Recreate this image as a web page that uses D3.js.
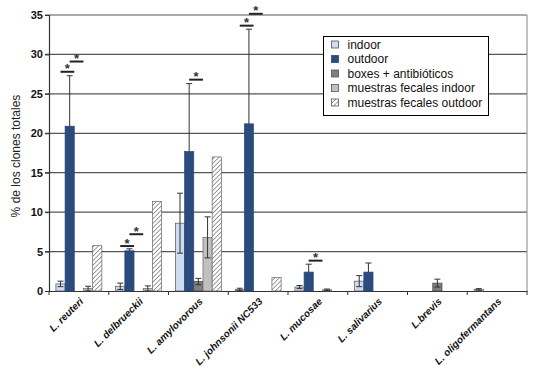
<!DOCTYPE html>
<html>
<head>
<meta charset="utf-8">
<script src="https://cdn.jsdelivr.net/npm/d3@7"></script>
<style>
  body { margin: 0; background: #fff; }
  svg { display: block; font-family: "Liberation Sans", Arial, sans-serif; }
</style>
</head>
<body>
<svg id="chart" width="550" height="373"></svg>
<script>
// ---- data ----
const categories = ["L. reuteri", "L. delbrueckii", "L. amylovorous", "L. johnsonii NC533",
                    "L. mucosae", "L. salivarius", "L.brevis", "L. oligofermantans"];
const seriesNames = ["indoor", "outdoor", "boxes + antibióticos", "muestras fecales indoor", "muestras fecales outdoor"];

const indoor       = [0.9, 0.6, 8.6, 0.2, 0.5, 1.25, 0, 0.2];
const indoorErr    = [0.35, 0.4, 3.8, 0.15, 0.2, 0.7, 0, 0.1];
const outdoor      = [20.9, 5.1, 17.7, 21.2, 2.4, 2.4, 0, 0];
const outdoorErr   = [6.4, 0.25, 8.6, 12.0, 1.0, 1.15, 0, 0];
const boxes        = [0, 0, 1.2, 0, 0, 0, 1.0, 0];
const boxesErr     = [0, 0, 0.4, 0, 0, 0, 0.5, 0];
const fecIndoor    = [0.3, 0.3, 6.8, 0, 0.15, 0, 0, 0];
const fecIndoorErr = [0.3, 0.35, 2.6, 0, 0.1, 0, 0, 0];
const fecOutdoor   = [5.75, 11.35, 17.0, 1.7, 0, 0, 0, 0];
const fecOutdoorErr= [0, 0, 0, 0, 0, 0, 0, 0];

const yTicks = [0, 5, 10, 15, 20, 25, 30, 35];

// significance markers: category, pair of series (index), y value
const sigCat   = [0, 0, 1, 1, 2, 3, 3, 4];
const sigFrom  = [0, 1, 0, 1, 1, 0, 1, 1];
const sigTo    = [1, 2, 1, 2, 2, 1, 2, 2];
const sigY     = [27.8, 29.1, 5.7, 7.2, 26.8, 33.65, 35.15, 3.85];

// ---- styles ----
const fills = ["#cfdbee", "#2b4a7d", "#7f7f7f", "#c0c0c0", "url(#hatch)"];
const strokes = ["#555", "#2b4a7d", "#444", "#666", "#666"];
const twoSided = [true, false, true, true, true];

const values = [indoor, outdoor, boxes, fecIndoor, fecOutdoor];
const errs = [indoorErr, outdoorErr, boxesErr, fecIndoorErr, fecOutdoorErr];

const svg = d3.select("#chart");
const mLeft = 49, mRight = 527, mTop = 15, mBottom = 291;

const defs = svg.append("defs");
const pat = defs.append("pattern").attr("id", "hatch").attr("patternUnits", "userSpaceOnUse")
  .attr("width", 3.2).attr("height", 3.2).attr("patternTransform", "rotate(45)");
pat.append("rect").attr("width", 3.2).attr("height", 3.2).attr("fill", "#fff");
pat.append("line").attr("x1", 0).attr("y1", 0).attr("x2", 0).attr("y2", 3.2)
  .attr("stroke", "#6a6a6a").attr("stroke-width", 1.3);

const x0 = d3.scaleBand().domain(categories).range([mLeft, mRight]).paddingInner(0).paddingOuter(0);
const x1 = d3.scaleBand().domain(d3.range(seriesNames.length)).range([0, x0.bandwidth()])
  .paddingInner(0).paddingOuter(0.75);
const y = d3.scaleLinear().domain([0, 35]).range([mBottom, mTop]);

// gridlines
svg.append("g").selectAll("line").data(yTicks.filter(d => d > 0)).join("line")
  .attr("x1", mLeft - 4).attr("x2", mRight).attr("y1", d => y(d)).attr("y2", d => y(d))
  .attr("stroke", "#555").attr("stroke-width", 1.2);

// right border
svg.append("line").attr("x1", mRight).attr("x2", mRight).attr("y1", y(35)).attr("y2", mBottom)
  .attr("stroke", "#999").attr("stroke-width", 1.2);

// y axis
const yAxis = svg.append("g").attr("transform", `translate(${mLeft},0)`)
  .call(d3.axisLeft(y).tickValues(yTicks).tickSize(4).tickFormat(d3.format("d")));
yAxis.select(".domain").attr("stroke", "#333").attr("stroke-width", 1.2);
yAxis.selectAll(".tick line").attr("stroke", "#333");
yAxis.selectAll("text").attr("font-size", 11).attr("font-weight", "bold")
  .attr("fill", "#111").attr("font-family", "Liberation Sans, Arial, sans-serif").attr("x", -6);

// x axis
const xAxis = svg.append("g").attr("transform", `translate(0,${mBottom})`)
  .call(d3.axisBottom(x0).tickSize(0).tickFormat(""));
xAxis.select(".domain").attr("stroke", "#333").attr("stroke-width", 1.2);
svg.append("g").selectAll("line").data(categories.map((c, i) => i).concat([categories.length])).join("line")
  .attr("x1", i => i < categories.length ? x0(categories[i]) : mRight)
  .attr("x2", i => i < categories.length ? x0(categories[i]) : mRight)
  .attr("y1", mBottom).attr("y2", mBottom + 4).attr("stroke", "#333");

// bars
const barData = [];
categories.forEach((c, ci) => {
  seriesNames.forEach((s, si) => {
    barData.push({ c, ci, si, v: values[si][ci], e: errs[si][ci] });
  });
});
const barsG = svg.append("g");
barsG.selectAll("rect").data(barData.filter(d => d.v > 0)).join("rect")
  .attr("x", d => x0(d.c) + x1(d.si))
  .attr("width", x1.bandwidth())
  .attr("y", d => y(d.v))
  .attr("height", d => y(0) - y(d.v))
  .attr("fill", d => fills[d.si])
  .attr("stroke", d => strokes[d.si])
  .attr("stroke-width", 0.7);

// error bars
const errG = svg.append("g").attr("stroke", "#333").attr("stroke-width", 1);
barData.filter(d => d.e > 0).forEach(d => {
  const cx = x0(d.c) + x1(d.si) + x1.bandwidth() / 2;
  const yTop = y(d.v + d.e);
  const yLow = twoSided[d.si] ? y(Math.max(0, d.v - d.e)) : y(d.v);
  errG.append("line").attr("x1", cx).attr("x2", cx).attr("y1", yTop).attr("y2", yLow);
  errG.append("line").attr("x1", cx - 3).attr("x2", cx + 3).attr("y1", yTop).attr("y2", yTop);
  if (twoSided[d.si])
    errG.append("line").attr("x1", cx - 3).attr("x2", cx + 3).attr("y1", yLow).attr("y2", yLow);
});

// significance markers
const sigG = svg.append("g");
sigCat.forEach((ci, k) => {
  const c = categories[ci];
  const xa = x0(c) + x1(sigFrom[k]) + x1.bandwidth() / 2;
  const xb = x0(c) + x1(sigTo[k]) + x1.bandwidth();
  const yy = y(sigY[k]);
  sigG.append("line").attr("x1", xa).attr("x2", xb).attr("y1", yy).attr("y2", yy)
    .attr("stroke", "#222").attr("stroke-width", 2);
  sigG.append("text").attr("x", (xa + xb) / 2).attr("y", yy + 1.5)
    .attr("text-anchor", "middle").attr("font-size", 13).attr("font-weight", "bold")
    .attr("fill", "#333").text("*");
});

// x labels
svg.append("g").selectAll("text").data(categories).join("text")
  .attr("transform", d => `translate(${x0(d) + x0.bandwidth() / 2 + 5},${mBottom + 11}) rotate(-45)`)
  .attr("text-anchor", "end")
  .attr("font-size", 10).attr("font-weight", "bold").attr("font-style", "italic")
  .attr("fill", "#111").text(d => d);

// y label
svg.append("text").attr("transform", `translate(20,156) rotate(-90)`)
  .attr("text-anchor", "middle").attr("font-size", 12).attr("fill", "#222")
  .text("% de los clones totales");

// legend
const lg = svg.append("g");
lg.append("rect").attr("x", 323.5).attr("y", 36.5).attr("width", 165).attr("height", 79)
  .attr("fill", "#fff").attr("stroke", "#000").attr("stroke-width", 1);
seriesNames.forEach((s, i) => {
  const cy = 44.5 + i * 14.5;
  lg.append("rect").attr("x", 331.5).attr("y", cy - 3.5).attr("width", 7).attr("height", 7)
    .attr("fill", fills[i]).attr("stroke", i === 1 ? fills[1] : "#555").attr("stroke-width", 0.8);
  lg.append("text").attr("x", 347.5).attr("y", cy + 4.2).attr("font-size", 12)
    .attr("fill", "#111").text(s);
});
</script>
</body>
</html>
